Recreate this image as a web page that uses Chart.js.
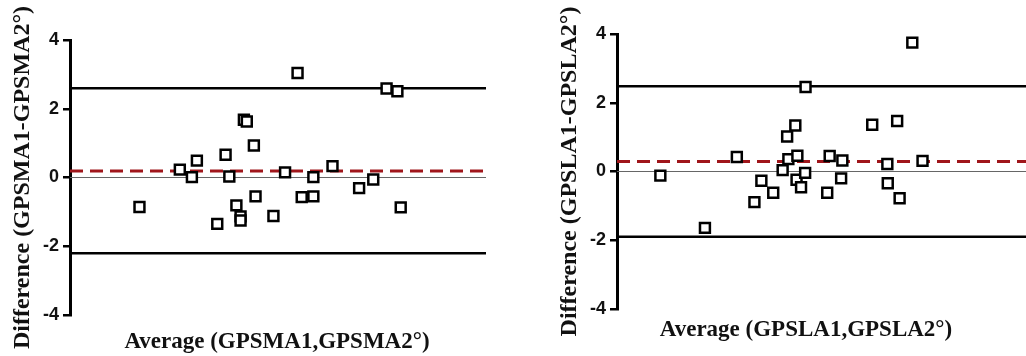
<!DOCTYPE html>
<html>
<head>
<meta charset="utf-8">
<script src="https://cdn.jsdelivr.net/npm/chart.js@4/dist/chart.umd.min.js"></script>
<style>
html, body { margin: 0; padding: 0; background: #fff; overflow: hidden; }
.box { position: absolute; top: 0; height: 356px; }
#b1 { left: 0; width: 506px; }
#b2 { left: 506px; width: 520px; }
</style>
</head>
<body>
<div class="box" id="b1"><canvas id="smaChart"></canvas></div>
<div class="box" id="b2"><canvas id="slaChart"></canvas></div>
<script>
// GPSMA: average vs difference (x axis has no ticks, units are arbitrary)
const smaAvg  = [16.7, 26.4, 29.3, 30.5, 35.4, 37.4, 38.3, 40.0, 41.0, 41.0, 41.8, 42.5, 44.2,
                 44.6, 48.9, 51.7, 54.7, 55.7, 58.5, 58.5, 63.1, 69.5, 72.9, 76.1, 78.7, 79.5];
const smaDiff = [-0.86, 0.23, 0.01, 0.49, -1.35, 0.66, 0.03, -0.81, -1.13, -1.25, 1.68, 1.63, 0.93,
                 -0.55, -1.12, 0.15, 3.04, -0.57, 0.01, -0.55, 0.33, -0.31, -0.06, 2.59, 2.51, -0.87];
const smaBias = 0.19;
const smaLoA  = [2.6, -2.2];   // upper, lower limits of agreement

// GPSLA
const slaAvg  = [10.6, 21.5, 29.3, 33.6, 35.3, 38.2, 41.6, 43.6, 40.5, 41.9, 44.1, 43.9, 45.0,
                 46.0, 46.1, 51.4, 52.0, 55.1, 54.8, 62.4, 66.1, 66.2, 68.5, 69.1, 72.2, 74.7];
const slaDiff = [-0.12, -1.64, 0.42, -0.89, -0.27, -0.62, 1.02, 1.34, 0.04, 0.36, 0.46, -0.24, -0.46,
                 -0.04, 2.46, -0.62, 0.45, 0.32, -0.2, 1.36, 0.22, -0.34, 1.47, -0.78, 3.75, 0.31];
const slaBias = 0.29;
const slaLoA  = [2.48, -1.9];

const yTicks = [-4, -2, 0, 2, 4];
const xRange = [0, 100];

function hline(y, color, width, dash) {
    return {
        type: 'line',
        data: [{x: xRange[0], y: y}, {x: xRange[1], y: y}],
        borderColor: color,
        borderWidth: width,
        borderDash: dash || [],
        pointRadius: 0,
        fill: false
    };
}

// x axis title drawn by hand so it can sit off-centre like in the original
function xTitle(text, cx, cy) {
    return {
        id: 'xTitle',
        afterDraw(chart) {
            const c = chart.ctx;
            c.save();
            c.font = 'bold 23px "Liberation Serif"';
            c.fillStyle = '#111';
            c.textAlign = 'center';
            c.textBaseline = 'middle';
            c.fillText(text, cx, cy);
            c.restore();
        }
    };
}

function makeChart(id, avg, diff, bias, loa, s) {
    const pts = avg.map((v, i) => ({x: v, y: diff[i]}));
    return new Chart(document.getElementById(id), {
        type: 'scatter',
        data: {
            datasets: [
                {
                    data: pts,
                    pointStyle: 'rect',
                    pointRadius: 7,
                    pointHoverRadius: 7,
                    borderWidth: 2.5,
                    borderColor: '#000',
                    backgroundColor: '#fff'
                },
                hline(loa[0], '#000', 2.5),
                hline(loa[1], '#000', 2.5),
                hline(bias, '#a0161b', 3, [13, 7]),
                hline(0, '#666', 1.2)
            ]
        },
        options: {
            responsive: true,
            maintainAspectRatio: false,
            animation: false,
            layout: { autoPadding: false, padding: { top: s.top, right: s.right, left: 0, bottom: 0 } },
            plugins: { legend: { display: false }, tooltip: { enabled: false } },
            scales: {
                x: {
                    type: 'linear',
                    min: xRange[0],
                    max: xRange[1],
                    grid: { display: false },
                    border: { display: false },
                    ticks: { display: false },
                    afterFit: (a) => { a.height = s.xHeight; }
                },
                y: {
                    min: -4,
                    max: 4,
                    afterBuildTicks: (a) => { a.ticks = yTicks.map(v => ({value: v})); },
                    grid: {
                        drawOnChartArea: false,
                        drawTicks: true,
                        tickLength: 7,
                        color: '#000',
                        lineWidth: 2.5
                    },
                    border: { display: true, color: '#000', width: 3 },
                    ticks: {
                        color: '#111',
                        padding: 4,
                        font: { family: '"Liberation Sans"', size: 18, weight: 'bold' }
                    },
                    title: {
                        display: true,
                        text: s.yLabel,
                        color: '#111',
                        padding: { top: s.yTitlePad, bottom: 0 },
                        font: { family: '"Liberation Serif"', size: 24, weight: 'bold' }
                    },
                    afterFit: (a) => { a.width = s.yWidth; }
                }
            }
        },
        plugins: [xTitle(s.xLabel, s.xTitleX, s.xTitleY)]
    });
}

makeChart('smaChart', smaAvg, smaDiff, smaBias, smaLoA, {
    top: 40, right: 20, xHeight: 41, yWidth: 70, yTitlePad: 8,
    yLabel: 'Difference (GPSMA1-GPSMA2°)',
    xLabel: 'Average (GPSMA1,GPSMA2°)', xTitleX: 277, xTitleY: 342
});

makeChart('slaChart', slaAvg, slaDiff, slaBias, slaLoA, {
    top: 34, right: 0, xHeight: 47, yWidth: 111, yTitlePad: 49,
    yLabel: 'Difference (GPSLA1-GPSLA2°)',
    xLabel: 'Average (GPSLA1,GPSLA2°)', xTitleX: 300, xTitleY: 330
});
</script>
</body>
</html>
